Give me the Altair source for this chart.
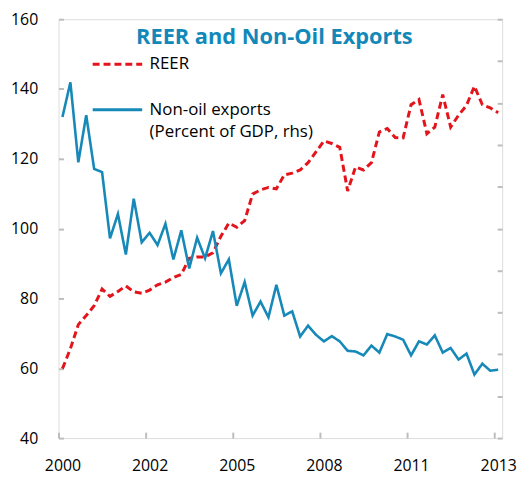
import altair as alt
import pandas as pd

quarters = list(range(56))

reer = [59.9, 65.6, 72.5, 75.1, 77.9, 82.7, 80.6, 82.0, 83.6, 81.9,
        81.5, 82.4, 83.9, 84.7, 86.0, 86.9, 91.5, 91.9, 91.9, 93.1,
        97.8, 101.6, 100.4, 102.3, 109.9, 111.1, 111.8, 111.4, 115.4, 115.9,
        116.8, 118.9, 122.0, 125.1, 124.4, 123.3, 110.8, 117.7, 116.8, 118.9,
        127.7, 128.7, 126.1, 126.0, 135.5, 137.0, 127.2, 129.1, 138.4, 129.1,
        132.5, 135.3, 140.8, 135.5, 134.6, 133.2]

nonoil = [132.0, 141.9, 119.0, 132.5, 117.1, 116.2, 97.2, 104.2, 92.6, 108.6,
          96.1, 98.8, 95.3, 101.4, 91.2, 99.5, 88.6, 97.4, 91.5, 99.3,
          87.2, 91.2, 77.9, 84.7, 75.1, 79.1, 74.6, 83.9, 75.1, 76.3,
          69.1, 72.2, 69.6, 67.7, 69.2, 67.7, 65.0, 64.8, 63.7, 66.5,
          64.5, 69.8, 69.1, 68.2, 63.7, 67.7, 66.8, 69.4, 64.5, 65.8,
          62.5, 64.2, 58.2, 61.3, 59.3, 59.6]

year_labels = ["2000", "2002", "2005", "2008", "2011", "2013"]
x_tick_values = [-0.5, 10.5, 21.5, 32.5, 43.5, 54.5]
y_ticks = [40, 60, 80, 100, 120, 140, 160]
rhs_ticks = [40, 52, 64, 76, 88, 100, 112, 124, 136, 148, 160]
series_names = ["REER", "Non-oil exports\n(Percent of GDP, rhs)"]
series_colors = ["#E3141B", "#1689B8"]

df_reer = pd.DataFrame({"q": quarters, "value": reer, "series": series_names[0]})
df_non = pd.DataFrame({"q": quarters, "value": nonoil, "series": series_names[1]})

FONT = "Open Sans"
GRAY = "#BDBDBD"

legend = alt.Legend(
    title=None, orient="none", legendX=33, legendY=19, direction="vertical",
    symbolType="stroke", symbolSize=2500, symbolStrokeWidth=3,
    labelFontSize=17, labelFont=FONT, labelColor="black", labelOffset=6,
    labelLimit=400, labelExpr="split(datum.label, '\\n')", padding=0, rowPadding=11,
)
color = alt.Color("series:N", scale=alt.Scale(domain=series_names, range=series_colors), legend=legend)
dash = alt.StrokeDash("series:N", scale=alt.Scale(domain=series_names, range=[[7, 4], [1, 0]]), legend=legend)

labels_js = "[" + ",".join("'%s'" % s for s in year_labels) + "]"
x_enc = alt.X(
    "q:Q",
    scale=alt.Scale(domain=[-0.5, 55.5], nice=False, zero=False),
    axis=alt.Axis(
        values=x_tick_values, labelExpr=labels_js + "[round((datum.value + 0.5) / 11)]",
        labelOffset=4, labelFlush=False, title=None, grid=False, domain=False,
        offset=-6, tickSize=6, tickColor=GRAY, tickWidth=2, labelPadding=20,
        labelFontSize=16, labelFont=FONT, labelColor="black",
    ),
)

left_axis = alt.Axis(
    values=y_ticks, orient="left", offset=-5, tickSize=5, tickColor=GRAY, tickWidth=2,
    domain=False, grid=False, labelPadding=21, title=None,
    labelFontSize=16, labelFont=FONT, labelColor="black",
)
right_axis = alt.Axis(
    values=rhs_ticks, orient="right", offset=-5, tickSize=5, tickColor=GRAY, tickWidth=2,
    domain=False, grid=False, labels=False, title=None,
)

red = alt.Chart(df_reer).mark_line(strokeWidth=3).encode(
    x=x_enc,
    y=alt.Y("value:Q", scale=alt.Scale(domain=[40, 160], nice=False, zero=False), axis=left_axis),
    color=color, strokeDash=dash,
)
blue = alt.Chart(df_non).mark_line(strokeWidth=2.6).encode(
    x=x_enc,
    y=alt.Y("value:Q", scale=alt.Scale(domain=[40, 160], nice=False, zero=False), axis=right_axis),
    color=color, strokeDash=dash,
)

chart = alt.layer(red, blue).resolve_scale(y="independent").properties(
    width=448, height=423,
    title=alt.Title("REER and Non-Oil Exports", fontSize=22, font=FONT, fontWeight="bold",
                    color="#1288B8", offset=-38, anchor="middle", dx=-6, frame="group"),
    autosize=alt.AutoSizeParams(type="none"),
    padding={"left": 51, "top": 9, "right": 15, "bottom": 38},
).configure_view(stroke=GRAY, strokeWidth=2).configure(
    font=FONT, style={"guide-label": {"lineHeight": 22}}
)

chart.save("out.html", embed_options={"renderer": "svg", "actions": False})
